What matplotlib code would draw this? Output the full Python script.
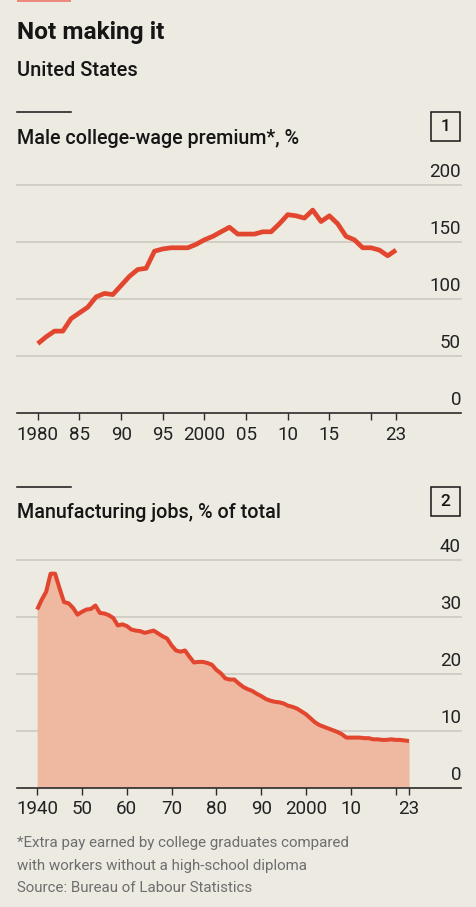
import matplotlib
matplotlib.use("Agg")
import matplotlib.pyplot as plt
from matplotlib.lines import Line2D
from matplotlib.patches import Rectangle

# --------------------------------------------
# Data
# --------------------------------------------

premium_years = list(range(1980, 2024))
premium_values = [61, 67, 72, 72, 83, 88, 93, 102, 105, 104,
                  112, 120, 126, 127, 142, 144, 145, 145, 145, 148,
                  152, 155, 159, 163, 157, 157, 157, 159, 159, 166,
                  174, 173, 171, 178, 168, 173, 166, 155, 152, 145,
                  145, 143, 138, 143]

manuf_years = list(range(1940, 2024))
manuf_values = [31.3, 33.0, 34.4, 37.6, 37.6, 35.0, 32.6, 32.4, 31.6, 30.4,
                30.9, 31.3, 31.4, 32.0, 30.7, 30.6, 30.3, 29.8, 28.5, 28.7,
                28.4, 27.8, 27.6, 27.5, 27.2, 27.4, 27.6, 27.1, 26.6, 26.2,
                25.0, 24.1, 23.9, 24.1, 23.0, 22.0, 22.1, 22.1, 21.9, 21.6,
                20.7, 20.1, 19.2, 19.0, 19.0, 18.3, 17.7, 17.3, 17.0, 16.5,
                16.1, 15.6, 15.3, 15.1, 15.0, 14.8, 14.4, 14.2, 13.9, 13.4,
                12.9, 12.2, 11.5, 11.0, 10.7, 10.4, 10.1, 9.8, 9.4, 8.8,
                8.8, 8.8, 8.8, 8.7, 8.7, 8.5, 8.5, 8.4, 8.4, 8.5,
                8.4, 8.4, 8.3, 8.2]

premium_yticks = [0, 50, 100, 150, 200]
premium_xticks = [1980, 1985, 1990, 1995, 2000, 2005, 2010, 2015, 2020, 2023]
premium_xlabels = ["1980", "85", "90", "95", "2000", "05", "10", "15", "", "23"]

manuf_yticks = [0, 10, 20, 30, 40]
manuf_xticks = [1940, 1950, 1960, 1970, 1980, 1990, 2000, 2010, 2020, 2023]
manuf_xlabels = ["1940", "50", "60", "70", "80", "90", "2000", "10", "", "23"]

title = "Not making it"
subtitle = "United States"
panel1_title = "Male college-wage premium*, %"
panel2_title = "Manufacturing jobs, % of total"
footnote = ["*Extra pay earned by college graduates compared",
            "with workers without a high-school diploma",
            "Source: Bureau of Labour Statistics"]

# --------------------------------------------
# Style
# --------------------------------------------

BG = "#ECEAE1"
RED = "#E2462F"
FILL = "#EFB8A0"
GRID = "#CBC9C0"
AXIS = "#2B2B2B"
TEXT = "#161616"
GREY = "#6E6E6E"

plt.rcParams["font.family"] = ["Roboto", "DejaVu Sans"]

W, H = 476, 907
fig = plt.figure(figsize=(W / 100, H / 100), dpi=100)
fig.patch.set_facecolor(BG)


def fx(x):
    return x / W


def fy(y):
    return 1 - y / H


def add_axes_px(left, top, right, bottom):
    return fig.add_axes([fx(left), fy(bottom), (right - left) / W, (bottom - top) / H])


def header(y_rule, y_text, text, number):
    fig.add_artist(Line2D([fx(17), fx(70.7)], [fy(y_rule)] * 2, color=TEXT, lw=1.1))
    fig.text(fx(17), fy(y_text), text, fontsize=14.2, fontweight="medium",
             color=TEXT, va="baseline", ha="left")
    fig.add_artist(Rectangle((fx(431), fy(y_rule + 29)), 29 / W, 29 / H,
                             transform=fig.transFigure, fill=False,
                             edgecolor=TEXT, lw=1.1))
    fig.text(fx(445.5), fy(y_rule + 14.5), number, fontsize=12.5,
             fontweight="medium", color=TEXT, ha="center", va="center")


def panel(ax, x, y, xlim, ylim, yticks, xticks, xlabels, fill, lw):
    ax.set_facecolor("none")
    ax.set_xlim(xlim)
    ax.set_ylim(ylim)
    for s in ax.spines.values():
        s.set_visible(False)
    for t in yticks[1:]:
        ax.axhline(t, color=GRID, lw=1.2, zorder=0, clip_on=False)
    if fill:
        ax.fill_between(x, y, 0, color=FILL, lw=0, zorder=1)
    ax.plot(x, y, color=RED, lw=lw, solid_joinstyle="round",
            solid_capstyle="butt", zorder=2, clip_on=False)
    ax.axhline(0, color=AXIS, lw=1.2, zorder=3, clip_on=False)
    ax.set_yticks([])
    ax.set_xticks(xticks)
    ax.set_xticklabels(xlabels)
    ax.tick_params(axis="x", length=5, width=1, color=AXIS, pad=4,
                   labelsize=13.5, labelcolor="#222222")
    for t in yticks:
        ax.annotate(str(t), xy=(1, t), xycoords=("axes fraction", "data"),
                    xytext=(0, 4), textcoords="offset pixels",
                    ha="right", va="bottom", fontsize=13.5, color="#222222")


# top red tag
fig.add_artist(Rectangle((fx(17), fy(2)), 53.7 / W, 2 / H,
                         transform=fig.transFigure, color="#EC8A7E", lw=0))

fig.text(fx(17), fy(38.5), title, fontsize=17.6, fontweight="bold",
         color=TEXT, va="baseline")
fig.text(fx(17), fy(76.5), subtitle, fontsize=14.4, fontweight="medium",
         color=TEXT, va="baseline")

# panel 1
header(112.3, 143.5, panel1_title, "1")
ax1 = add_axes_px(17, 185, 461, 413.3)
panel(ax1, premium_years, premium_values, (1977.5, 2030.8), (0, 200),
      premium_yticks, premium_xticks, premium_xlabels, False, 3.4)

# panel 2
header(487.3, 517.5, panel2_title, "2")
ax2 = add_axes_px(17, 560, 461, 787.7)
panel(ax2, manuf_years, manuf_values, (1935.5, 2034.6), (0, 40),
      manuf_yticks, manuf_xticks, manuf_xlabels, True, 2.9)

# footnote
for i, line in enumerate(footnote):
    fig.text(fx(17), fy(847.5 + i * 22.3), line, fontsize=10.9,
             color=GREY, va="baseline")

fig.savefig("out.png", dpi=100, facecolor=BG)
